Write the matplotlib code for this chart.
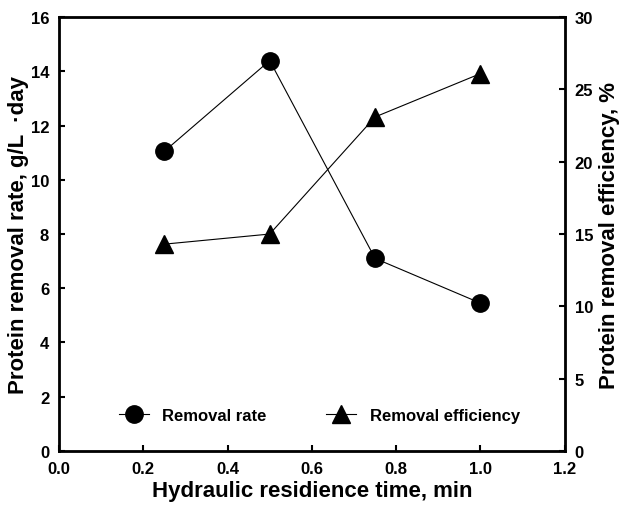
import matplotlib
matplotlib.use('Agg')
import matplotlib.pyplot as plt
from matplotlib.lines import Line2D

plt.rcParams['font.family'] = ['Liberation Sans', 'DejaVu Sans']
plt.rcParams['font.weight'] = 'bold'

# data
hrt = [0.25, 0.5, 0.75, 1.0]
removal_rate = [11.05, 14.4, 7.1, 5.45]          # g/L day
removal_eff = [14.3, 15.0, 23.1, 26.1]            # %

fig = plt.figure(figsize=(6.2, 5.06), dpi=100)
ax1 = fig.add_axes([0.095, 0.107, 0.816, 0.857])
ax1.plot(hrt, removal_rate, 'k-', lw=0.8, marker='o', ms=12.5)
ax1.set_xlim(0, 1.2)
ax1.set_ylim(0, 16)
ax1.set_xticks([0.0, 0.2, 0.4, 0.6, 0.8, 1.0, 1.2])
ax1.set_xticklabels(['%.1f' % v for v in [0.0, 0.2, 0.4, 0.6, 0.8, 1.0, 1.2]])
ax1.set_yticks(range(0, 17, 2))
ax1.tick_params(direction='in', length=4, width=1.5, labelsize=12, pad=7)
ax1.set_xlabel('Hydraulic residience time, min', fontsize=16, fontweight='bold', labelpad=3)
ax1.set_ylabel('Protein removal rate, g/L  \u00b7day', fontsize=16, fontweight='bold', labelpad=1)
for s in ax1.spines.values():
    s.set_linewidth(2)

ax2 = ax1.twinx()
ax2.plot(hrt, removal_eff, 'k-', lw=0.8, marker='^', ms=12.5)
ax2.set_ylim(0, 30)
ax2.set_yticks(range(0, 31, 5))
ax2.tick_params(direction='in', length=4, width=1.5, labelsize=12, pad=7)
ax2.set_ylabel('Protein removal efficiency, %', fontsize=16, fontweight='bold', labelpad=4)

handles = [Line2D([], [], color='k', lw=0.8, marker='o', ms=12.5),
           Line2D([], [], color='k', lw=0.8, marker='^', ms=12.5)]
ax1.legend(handles, ['Removal rate', 'Removal efficiency'], loc='center left',
           bbox_to_anchor=(0.105, 0.082), ncol=2, frameon=False, fontsize=12,
           handlelength=1.8, handletextpad=0.8, columnspacing=3.6, borderaxespad=0)

fig.savefig('out.png', dpi=100)
